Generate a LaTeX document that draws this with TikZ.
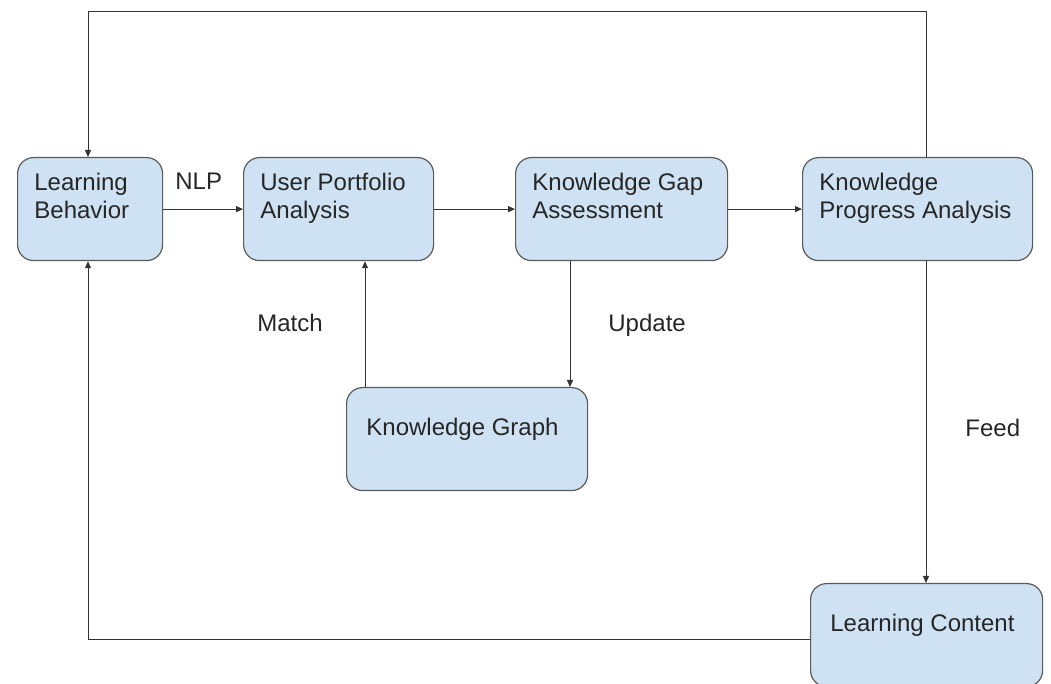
\documentclass[tikz,border=0pt]{standalone}
\usepackage{fontspec}
\setmainfont{Liberation Sans}
\usetikzlibrary{arrows.meta,calc}
\definecolor{boxfill}{HTML}{CFE2F3}
\definecolor{boxline}{HTML}{5A5A5A}
\definecolor{txtc}{HTML}{262626}

\begin{document}
\begin{tikzpicture}[x=0.5pt,y=-0.5pt,
    blk/.style={draw=boxline,fill=boxfill,line width=0.6pt,rounded corners=8pt,inner sep=0pt,anchor=north west,minimum height=51.5pt},
    txt/.style={anchor=north west,align=left,inner sep=0pt,xshift=8.5pt,yshift=-8pt,text=txtc,font=\fontsize{12}{14}\selectfont},
    lowtxt/.style={txt,xshift=1.5pt,yshift=-7.5pt},
    lbl/.style={anchor=base west,inner sep=0pt,text=txtc,font=\fontsize{12}{14}\selectfont},
    arr/.style={-{Triangle[length=3.5pt,width=3pt]},line width=0.5pt,draw=black!80}]
  \useasboundingbox (0,0) rectangle (1051,684);
  % boxes
  \node[blk,minimum width=72.5pt,label={[txt]north west:Learning\\Behavior}] (behav) at (17,157) {};
  \node[blk,minimum width=95pt,label={[txt]north west:User Portfolio\\Analysis}] (portf) at (243,157) {};
  \node[blk,minimum width=106pt,label={[txt]north west:Knowledge Gap\\Assessment}] (gap) at (515,157) {};
  \node[blk,minimum width=115pt,label={[txt]north west:Knowledge\\Progress Analysis}] (prog) at (802,157) {};
  \node[blk,minimum width=120.5pt,label={[lowtxt]north west:Knowledge Graph}] (graph) at (346,387) {};
  \node[blk,minimum width=116pt,label={[lowtxt]north west:Learning Content}] (cont) at (810,583) {};
  % labels
  \node[lbl] (nlp) at (175,190) {NLP};
  \node[lbl] (match) at (257,332) {Match};
  \node[lbl] (update) at (608,332) {Update};
  \node[lbl] (feed) at (965,437) {Feed};
  % helper points
  \coordinate (updx) at (570,0);
  \coordinate (matchx) at (365,0);
  \coordinate (feedx) at (926,0);
  \coordinate (tl) at (88,12);
  \coordinate (bl) at (88,639);
  % connectors
  \draw[arr] (behav) -- (portf);
  \draw[arr] (portf) -- (gap);
  \draw[arr] (gap) -- (prog);
  \draw[arr] (gap.south -| updx) -- (graph.north -| updx);
  \draw[arr] (graph.north -| matchx) -- (portf.south -| matchx);
  \draw[arr] (prog.south -| feedx) -- (cont.north -| feedx);
  \draw[arr] (prog.north -| feedx) |- (tl) -- (behav.north -| tl);
  \draw[arr] (cont.west |- bl) -- (bl) -- (behav.south -| bl);
\end{tikzpicture}
\end{document}
